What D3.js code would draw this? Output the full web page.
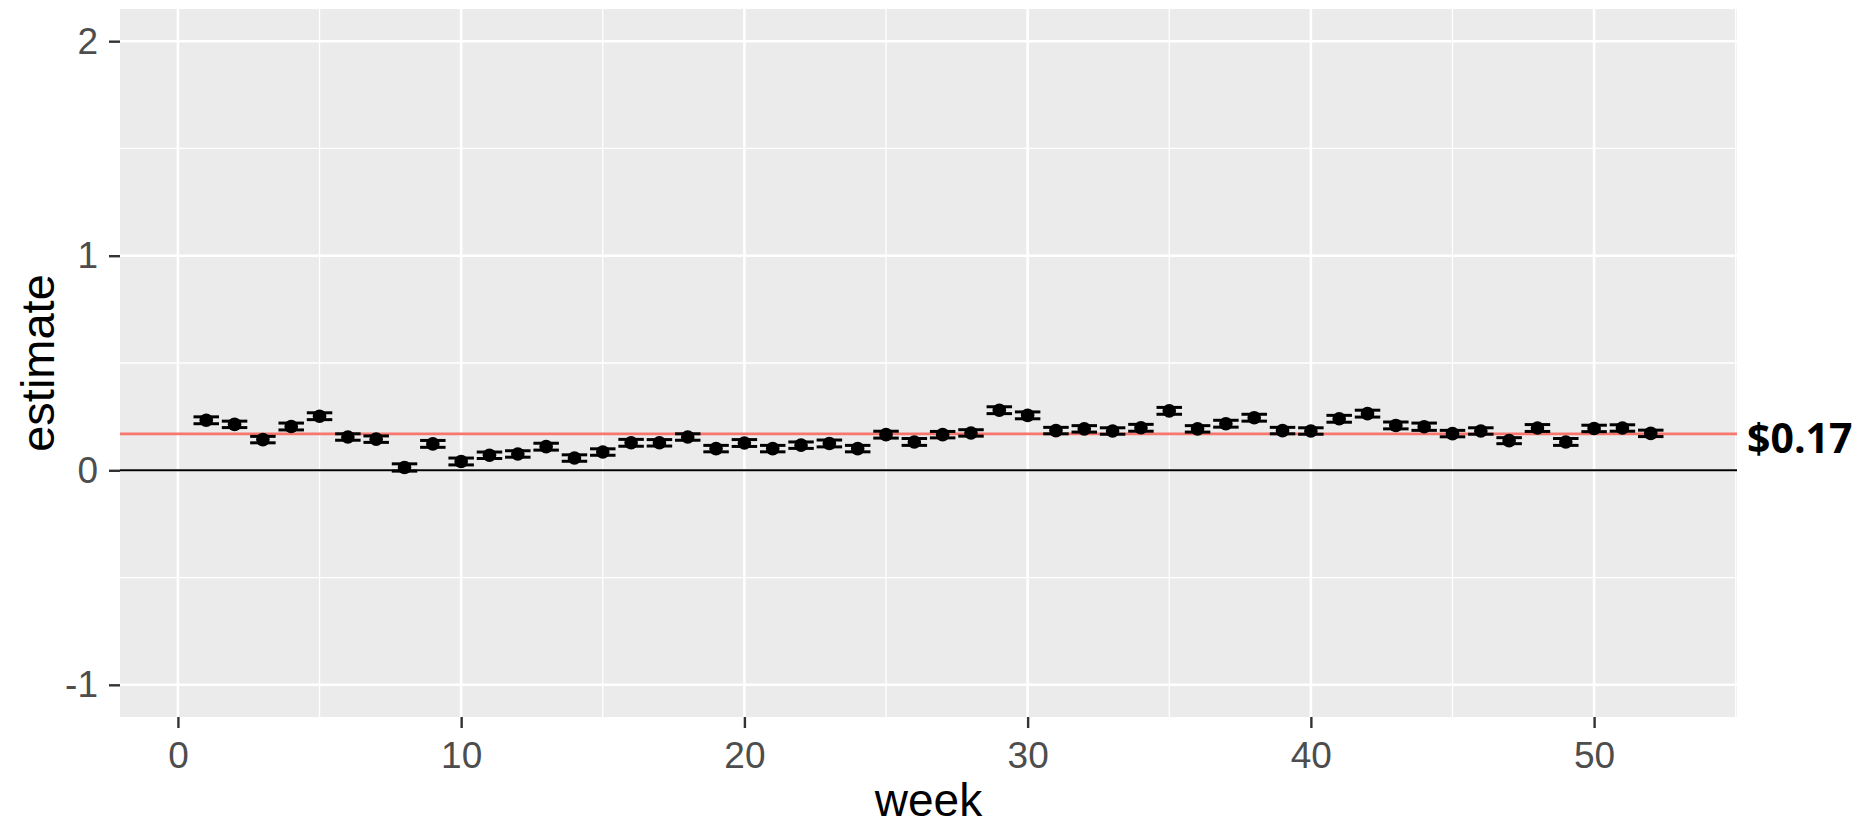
<!DOCTYPE html>
<html>
<head>
<meta charset="utf-8">
<script src="https://cdn.jsdelivr.net/npm/d3@7"></script>
<style>
  html, body { margin: 0; padding: 0; background: #fff; }
  svg { display: block; }
</style>
</head>
<body>
<div id="chart"></div>
<script>
// weekly estimates
const weeks = d3.range(1, 53)
const estimates = [
  0.233, 0.214, 0.143, 0.204, 0.252, 0.155, 0.145, 0.013, 0.123, 0.041,
  0.070, 0.076, 0.110, 0.057, 0.085, 0.128, 0.128, 0.155, 0.101, 0.127,
  0.101, 0.117, 0.125, 0.101, 0.166, 0.132, 0.166, 0.174, 0.280, 0.256,
  0.185, 0.193, 0.183, 0.198, 0.277, 0.193, 0.217, 0.245, 0.185, 0.183,
  0.240, 0.264, 0.209, 0.203, 0.171, 0.183, 0.138, 0.197, 0.132, 0.195,
  0.197, 0.172
]
const stdErrs = [
  0.016, 0.015, 0.015, 0.016, 0.016, 0.015, 0.015, 0.017, 0.016, 0.016,
  0.015, 0.015, 0.016, 0.015, 0.015, 0.016, 0.015, 0.015, 0.015, 0.016,
  0.015, 0.015, 0.016, 0.015, 0.016, 0.016, 0.015, 0.015, 0.016, 0.016,
  0.015, 0.015, 0.015, 0.016, 0.016, 0.015, 0.016, 0.016, 0.015, 0.015,
  0.016, 0.016, 0.016, 0.017, 0.015, 0.015, 0.014, 0.016, 0.016, 0.015,
  0.015, 0.015
]
const meanEstimate = 0.17
const meanLabel = '$0.17'

const xMajor = [0, 10, 20, 30, 40, 50]
const xMinor = [5, 15, 25, 35, 45, 55]
const yMajor = [-1, 0, 1, 2]
const yMinor = [-0.5, 0.5, 1.5]

const W = 1862, H = 826
const panel = { left: 120, right: 1737, top: 9, bottom: 717 }
const capHalf = 0.45

const svg = d3.select('#chart').append('svg')
  .attr('width', W)
  .attr('height', H)

const x = d3.scaleLinear().domain([-2.045, 55.045]).range([panel.left, panel.right])
const y = d3.scaleLinear().domain([-1.15, 2.15]).range([panel.bottom, panel.top])

// panel
svg.append('rect')
  .attr('x', panel.left).attr('y', panel.top)
  .attr('width', panel.right - panel.left)
  .attr('height', panel.bottom - panel.top)
  .attr('fill', '#EBEBEB')

const grid = svg.append('g')
grid.selectAll('line.vmin').data(xMinor).enter().append('line')
  .attr('x1', d => x(d)).attr('x2', d => x(d))
  .attr('y1', panel.top).attr('y2', panel.bottom)
  .attr('stroke', '#fff').attr('stroke-width', 1.3)
grid.selectAll('line.hmin').data(yMinor).enter().append('line')
  .attr('y1', d => y(d)).attr('y2', d => y(d))
  .attr('x1', panel.left).attr('x2', panel.right)
  .attr('stroke', '#fff').attr('stroke-width', 1.3)
grid.selectAll('line.vmaj').data(xMajor).enter().append('line')
  .attr('x1', d => x(d)).attr('x2', d => x(d))
  .attr('y1', panel.top).attr('y2', panel.bottom)
  .attr('stroke', '#fff').attr('stroke-width', 2.6)
grid.selectAll('line.hmaj').data(yMajor).enter().append('line')
  .attr('y1', d => y(d)).attr('y2', d => y(d))
  .attr('x1', panel.left).attr('x2', panel.right)
  .attr('stroke', '#fff').attr('stroke-width', 2.6)

// reference lines
svg.append('line')
  .attr('x1', panel.left).attr('x2', panel.right)
  .attr('y1', y(0)).attr('y2', y(0))
  .attr('stroke', '#000').attr('stroke-width', 2)

svg.append('line')
  .attr('x1', panel.left).attr('x2', panel.right)
  .attr('y1', y(meanEstimate)).attr('y2', y(meanEstimate))
  .attr('stroke', '#F8766D').attr('stroke-width', 2.8)

const data = weeks.map((w, i) => ({ week: w, est: estimates[i], se: stdErrs[i] }))

// error bars
const eb = svg.append('g').selectAll('g').data(data).enter().append('g')
  .attr('stroke', '#000').attr('stroke-width', 3)
eb.append('line')
  .attr('x1', d => x(d.week)).attr('x2', d => x(d.week))
  .attr('y1', d => y(d.est - d.se)).attr('y2', d => y(d.est + d.se))
eb.append('line')
  .attr('x1', d => x(d.week - capHalf)).attr('x2', d => x(d.week + capHalf))
  .attr('y1', d => y(d.est + d.se)).attr('y2', d => y(d.est + d.se))
eb.append('line')
  .attr('x1', d => x(d.week - capHalf)).attr('x2', d => x(d.week + capHalf))
  .attr('y1', d => y(d.est - d.se)).attr('y2', d => y(d.est - d.se))

svg.append('g').selectAll('circle').data(data).enter().append('circle')
  .attr('cx', d => x(d.week))
  .attr('cy', d => y(d.est))
  .attr('r', 6.8)
  .attr('fill', '#000')

// axes
const fontFam = '"Liberation Sans", Arial, sans-serif'
const tickFmt = d => (d < 0 ? '-' : '') + Math.abs(d)

const xAxis = svg.append('g')
  .attr('transform', `translate(0,${panel.bottom})`)
  .call(d3.axisBottom(x).tickValues(xMajor).tickFormat(tickFmt).tickSize(11).tickPadding(14))
const yAxis = svg.append('g')
  .attr('transform', `translate(${panel.left},0)`)
  .call(d3.axisLeft(y).tickValues(yMajor).tickFormat(tickFmt).tickSize(11).tickPadding(11))

for (const ax of [xAxis, yAxis]) {
  ax.select('.domain').remove()
  ax.selectAll('.tick line').attr('stroke', '#333').attr('stroke-width', 2.4)
  ax.selectAll('.tick text')
    .attr('fill', '#4D4D4D')
    .style('font-family', fontFam)
    .style('font-size', '37px')
}

svg.append('text')
  .attr('x', (panel.left + panel.right) / 2)
  .attr('y', 816)
  .attr('text-anchor', 'middle')
  .style('font-family', fontFam)
  .style('font-size', '46px')
  .attr('fill', '#000')
  .text('week')

svg.append('text')
  .attr('transform', `translate(54,${(panel.top + panel.bottom) / 2}) rotate(-90)`)
  .attr('text-anchor', 'middle')
  .style('font-family', fontFam)
  .style('font-size', '47px')
  .attr('fill', '#000')
  .text('estimate')

svg.append('text')
  .attr('x', 1747)
  .attr('y', y(meanEstimate) + 8)
  .attr('dominant-baseline', 'middle')
  .style('font-family', '"Open Sans", "Noto Sans", sans-serif')
  .style('font-weight', 700)
  .style('font-size', '41px')
  .attr('fill', '#000')
  .text(meanLabel)
</script>
</body>
</html>
